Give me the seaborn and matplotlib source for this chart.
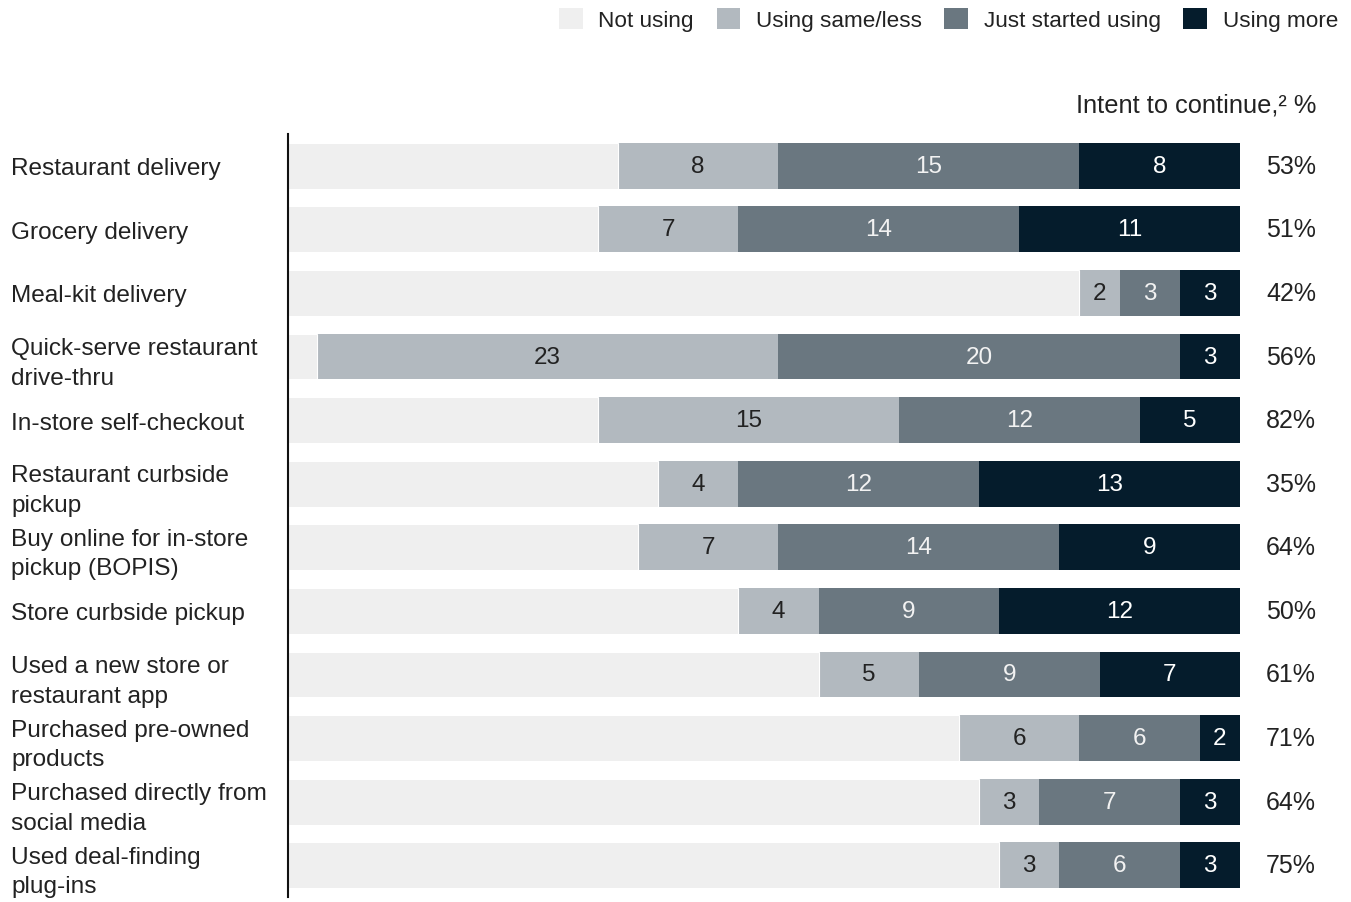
import matplotlib
matplotlib.use("Agg")
import matplotlib.pyplot as plt
import matplotlib.patches as mpatches
import numpy as np
import pandas as pd
import seaborn as sns

# Shoppers' use of digital/contactless shopping options, % of respondents
categories = [
    "Restaurant delivery",
    "Grocery delivery",
    "Meal-kit delivery",
    "Quick-serve restaurant\ndrive-thru",
    "In-store self-checkout",
    "Restaurant curbside\npickup",
    "Buy online for in-store\npickup (BOPIS)",
    "Store curbside pickup",
    "Used a new store or\nrestaurant app",
    "Purchased pre-owned\nproducts",
    "Purchased directly from\nsocial media",
    "Used deal-finding\nplug-ins",
]
using_same_less = [8, 7, 2, 23, 15, 4, 7, 4, 5, 6, 3, 3]
just_started = [15, 14, 3, 20, 12, 12, 14, 9, 9, 6, 7, 6]
using_more = [8, 11, 3, 3, 5, 13, 9, 12, 7, 2, 3, 3]
intent_to_continue = [53, 51, 42, 56, 82, 35, 64, 50, 61, 71, 64, 75]

series_names = ["Not using", "Using same/less", "Just started using", "Using more"]
colors = ["#EFEFEF", "#B2B9BF", "#6A7780", "#051C2C"]
text_colors = [None, "#222222", "#F2F2F2", "#FFFFFF"]

same = np.array(using_same_less)
just = np.array(just_started)
more = np.array(using_more)
not_using = 100 - (same + just + more)

df = pd.DataFrame({
    "category": categories,
    "not_using": not_using,
    "same": same,
    "just": just,
    "more": more,
})
# right edges of each stacked segment
df["end_not"] = df["not_using"]
df["end_same"] = df["end_not"] + df["same"]
df["end_just"] = df["end_same"] + df["just"]
df["end_more"] = df["end_just"] + df["more"]

sns.set_theme(style="white")
plt.rcParams["font.family"] = ["Liberation Sans", "DejaVu Sans"]

fig = plt.figure(figsize=(13.51, 9.03), dpi=100)
ax = fig.add_axes([288 / 1351, 1 - 898 / 903, (1240 - 288) / 1351, (898 - 135) / 903])

bar_h = 0.72
# draw stacked segments back to front (largest cumulative first)
layers = [("end_more", colors[3], 0), ("end_just", colors[2], 0),
          ("end_same", colors[1], 0), ("end_not", colors[0], 0.8)]
for col, c, lw in layers:
    sns.barplot(data=df, x=col, y="category", orient="h", color=c,
                width=bar_h, edgecolor="white", linewidth=lw, ax=ax,
                saturation=1)

# value labels centred in each segment
segments = [("same", "end_not", 1), ("just", "end_same", 2), ("more", "end_just", 3)]
for i, row in df.iterrows():
    for val_col, start_col, k in segments:
        v = row[val_col]
        x = row[start_col] + v / 2
        ax.text(x, i, f"{v}", ha="center", va="center", fontsize=17.5,
                color=text_colors[k])
    ax.text(1.0798, i, f"{intent_to_continue[i]}%", transform=ax.get_yaxis_transform(),
            ha="right", va="center", fontsize=18, color="#222222")

span = 47.44
ax.set_xlim(100 - span, 100)
ax.set_ylim(len(categories) - 0.5, -0.5)
ax.set_xlabel("")
ax.set_ylabel("")
ax.set_xticks([])
ax.set_yticks(range(len(categories)))
ax.set_yticklabels(categories, fontsize=17.6, color="#222222", linespacing=1.45)
for lab in ax.get_yticklabels():
    lab.set_ha("left")
ax.tick_params(axis="y", length=0, pad=277 * 0.72)

for s in ["top", "right", "bottom"]:
    ax.spines[s].set_visible(False)
ax.spines["left"].set_color("#111111")
ax.spines["left"].set_linewidth(1.5)

fig.text(1316 / 1351, 1 - 106 / 903, "Intent to continue,\u00b2 %", ha="right",
         va="center", fontsize=18.3, color="#222222")

handles = [mpatches.Patch(facecolor=c, edgecolor="none", label=n)
           for n, c in zip(series_names, colors)]
fig.legend(handles=handles, loc="upper right", bbox_to_anchor=(1338 / 1351, 1 - 9 / 903),
           ncol=4, frameon=False, fontsize=16.2, handlelength=1.05, handleheight=1.05,
           handletextpad=0.7, columnspacing=1.0, borderpad=0, borderaxespad=0,
           labelcolor="#222222")

fig.savefig("out.png", dpi=100, facecolor="white")
